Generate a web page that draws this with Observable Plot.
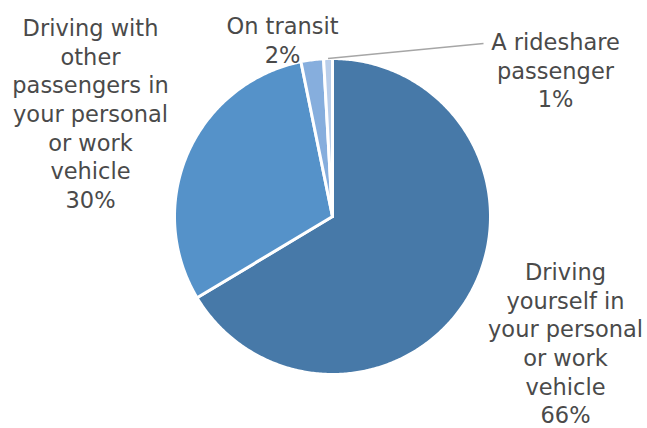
<!DOCTYPE html>
<html>
<head>
<meta charset="utf-8">
<script src="https://cdn.jsdelivr.net/npm/d3@7"></script>
<script src="https://cdn.jsdelivr.net/npm/@observablehq/plot@0.6"></script>
<style>
  html, body { margin: 0; padding: 0; background: #fff; }
</style>
</head>
<body>
<div id="chart"></div>
<script>
// Data
const categories = [
  "Driving yourself in your personal or work vehicle",
  "Driving with other passengers in your personal or work vehicle",
  "On transit",
  "A rideshare passenger"
];
const values = [66.4, 30.4, 2.3, 0.9];
const pctLabels = ["66%", "30%", "2%", "1%"];
const labelLines = [
  ["Driving", "yourself in", "your personal", "or work", "vehicle"],
  ["Driving with", "other", "passengers in", "your personal", "or work", "vehicle"],
  ["On transit"],
  ["A rideshare", "passenger"]
];
const colors = ["#4779A8", "#5592C9", "#86AEDD", "#B9CEEA"];

// Layout
const W = 647, H = 428;
const cx = 332, cy = 216, R = 158;
const labelPos = [
  {x: 565, y: 259},
  {x: 90, y: 15},
  {x: 282, y: 13},
  {x: 555, y: 29}
];

const arcs = d3.pie().sort(null).value(d => d)(values);

// polygon points for each slice
const pts = [];
arcs.forEach((a, i) => {
  const n = Math.max(4, Math.ceil((a.endAngle - a.startAngle) / 0.01));
  pts.push({k: i, x: cx, y: cy});
  for (let j = 0; j <= n; j++) {
    const t = a.startAngle + (a.endAngle - a.startAngle) * j / n;
    pts.push({k: i, x: cx + R * Math.sin(t), y: cy - R * Math.cos(t)});
  }
  pts.push({k: i, x: cx, y: cy});
});

const labels = categories.map((c, i) => ({
  text: labelLines[i].join("\n") + "\n" + pctLabels[i],
  x: labelPos[i].x,
  y: labelPos[i].y
}));

// leader line for rideshare slice
const rs = arcs[3];
const mid = (rs.startAngle + rs.endAngle) / 2;
const leader = [{
  x1: cx + R * Math.sin(mid), y1: cy - R * Math.cos(mid),
  x2: 483, y2: 43
}];

const chart = Plot.plot({
  width: W, height: H,
  margin: 0,
  x: {domain: [0, W], range: [0, W], axis: null},
  y: {domain: [0, H], range: [0, H], axis: null},
  style: {background: "#fff"},
  marks: [
    Plot.line(pts, {
      x: "x", y: "y", z: "k",
      fill: d => colors[d.k],
      stroke: "#fff", strokeWidth: 3, strokeLinejoin: "round", curve: "linear"
    }),
    Plot.link(leader, {x1: "x1", y1: "y1", x2: "x2", y2: "y2", stroke: "#a6a6a6", strokeWidth: 1.5}),
    Plot.text(labels, {
      x: "x", y: "y", text: "text",
      lineAnchor: "top", lineHeight: 1.275,
      fontSize: 22.5, fontFamily: "DejaVu Sans", fill: "#4a4a4a",
      textAnchor: "middle"
    })
  ]
});
document.getElementById("chart").appendChild(chart);
</script>
</body>
</html>
